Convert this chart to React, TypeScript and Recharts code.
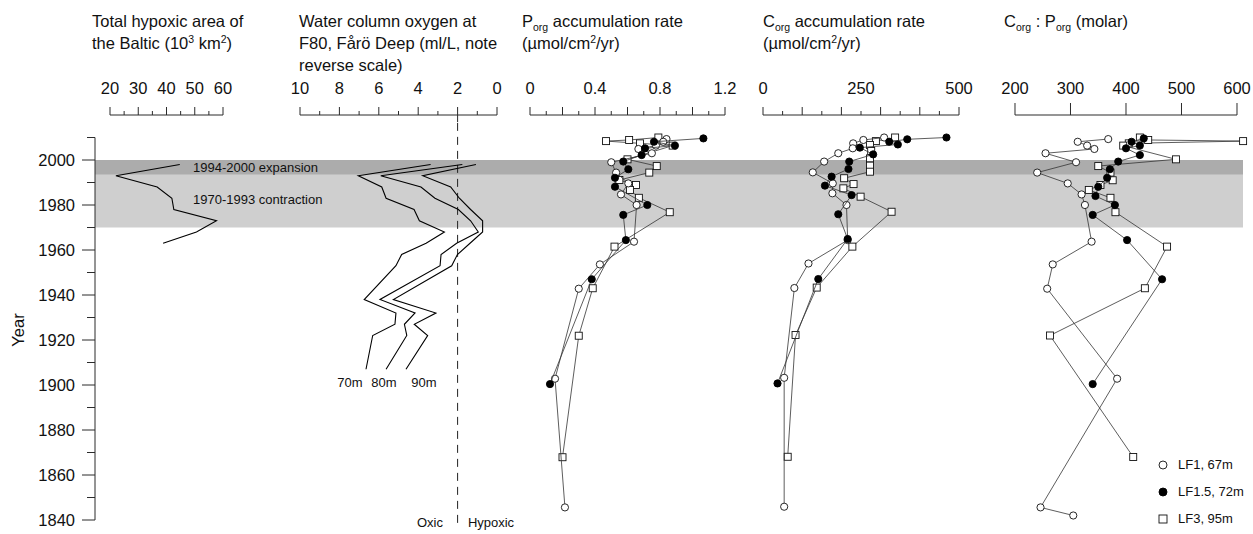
import React from 'react';
import { ScatterChart, Scatter, XAxis, YAxis, ReferenceArea, ReferenceLine } from 'recharts';

const FONT = '"Liberation Sans", Arial, Helvetica, sans-serif';
const AXIS = '#2b2b2b';
const INK = '#111111';
const W = 1253;
const H = 534;

// ---------- Year axis ----------
const yearTicks = [1840, 1850, 1860, 1870, 1880, 1890, 1900, 1910, 1920, 1930, 1940, 1950, 1960, 1970, 1980, 1990, 2000, 2010];
const yearLabels = [1840, 1860, 1880, 1900, 1920, 1940, 1960, 1980, 2000];
const contractionYears = [1970, 1993.4];
const expansionYears = [1993.4, 2000];

// ---------- Total hypoxic area ----------
const hypoxicYears = [1998, 1993, 1988, 1983, 1978, 1973, 1968, 1963];
const hypoxicArea = [44.7, 22.1, 36.7, 41.9, 42.6, 57.7, 50.6, 38.8];
const hypoxicTicks = [20, 25, 30, 35, 40, 45, 50, 55, 60];
const hypoxicMajor = [20, 30, 40, 50, 60];

// ---------- Oxygen at F80 ----------
const oxygenYears = [1998, 1993, 1988, 1983, 1978, 1973, 1968, 1963, 1958, 1953, 1938, 1932, 1927, 1922, 1907];
const oxygen70m = [3.37, 7.04, 5.85, 5.63, 4.21, 3.94, 2.67, 3.6, 4.84, 5.13, 6.74, 5.13, 5.18, 6.31, 6.65];
const oxygen80m = [1.76, 5.9, 3.86, 3.15, 1.96, 1.34, 0.95, 2.05, 2.84, 2.89, 5.94, 4.16, 4.7, 4.58, 5.63];
const oxygen90m = [1.07, 3.77, 2.35, 1.91, 1.34, 0.73, 0.73, 1.37, 2.01, 2.3, 5.26, 3.1, 4.2, 3.52, 4.62];
const oxygenTicks = [0, 1, 2, 3, 4, 5, 6, 7, 8, 9, 10];
const oxygenMajor = [0, 2, 4, 6, 8, 10];
const hypoxiaThreshold = 2;

// ---------- P_org accumulation rate [year, value] ----------
const pLF1: [number, number][] = [
  [2009.3, 0.84], [2008.1, 0.82], [2006.4, 0.775], [2004.9, 0.667], [2003, 0.75], [1999, 0.5],
  [1994.4, 0.53], [1989.6, 0.605], [1984.7, 0.56], [1980, 0.656], [1963.7, 0.64], [1953.6, 0.43],
  [1942.8, 0.3], [1902.8, 0.154], [1845.6, 0.215],
];
const pLF15: [number, number][] = [
  [2009.6, 1.067], [2008.1, 0.763], [2006.4, 0.892], [2005.2, 0.708], [2002.2, 0.687], [1999.3, 0.574],
  [1995.9, 0.605], [1992.1, 0.523], [1988.1, 0.523], [1980, 0.722], [1975.6, 0.574], [1964.4, 0.59],
  [1947, 0.38], [1900.4, 0.123],
];
const pLF3: [number, number][] = [
  [2010, 0.79], [2008.9, 0.61], [2008.4, 0.468], [2007.4, 0.677], [2006.4, 0.878], [2000.3, 0.6],
  [1997.3, 0.78], [1994.4, 0.734], [1991.1, 0.55], [1988.9, 0.652], [1986.7, 0.615], [1983.2, 0.67],
  [1976.8, 0.86], [1961.5, 0.52], [1943, 0.386], [1921.9, 0.3], [1867.9, 0.2],
];
const pTicks = [0, 0.1, 0.2, 0.3, 0.4, 0.5, 0.6, 0.7, 0.8, 0.9, 1.0, 1.1, 1.2];
const pMajor = [0, 0.2, 0.4, 0.6, 0.8, 1.0, 1.2];
const pLabels = [0, 0.4, 0.8, 1.2];

// ---------- C_org accumulation rate [year, value] ----------
const cLF1: [number, number][] = [
  [2010, 309], [2008.9, 256], [2007.4, 230], [2005.2, 229], [2003, 192], [1999.3, 156],
  [1994.5, 127], [1989.6, 178], [1985.2, 177], [1980, 213], [1964.4, 216], [1954, 116],
  [1943.1, 80], [1903.2, 54], [1845.9, 54],
];
const cLF15: [number, number][] = [
  [2010, 468], [2009.2, 368], [2008.1, 322], [2006.9, 344], [2005.5, 247], [2002.5, 281],
  [1999.3, 220], [1996, 218], [1992.6, 175], [1988.6, 158], [1984.4, 226], [1975.9, 192],
  [1964.9, 216], [1947.1, 141], [1900.7, 37],
];
const cLF3: [number, number][] = [
  [2010, 337], [2008.4, 288], [2006.7, 273], [2004, 276], [2000.7, 273], [1997.5, 273],
  [1994.8, 273], [1991.9, 207], [1989.3, 231], [1987.4, 205], [1983.7, 249], [1977, 328],
  [1961.5, 228], [1943.3, 137], [1922.2, 83], [1868.1, 63],
];
const cTicks = [0, 50, 100, 150, 200, 250, 300, 350, 400, 450, 500];
const cMajor = [0, 100, 200, 300, 400, 500];
const cLabels = [0, 250, 500];

// ---------- C_org : P_org [year, value] ----------
const rLF1: [number, number][] = [
  [2009.3, 368], [2008.1, 313], [2006.4, 330], [2004.9, 343], [2003, 255], [1999, 310],
  [1994.4, 240], [1989.6, 295], [1984.7, 320], [1980, 326], [1963.7, 338], [1953.6, 268],
  [1942.8, 258], [1902.8, 384], [1845.6, 246], [1842, 305],
];
const rLF15: [number, number][] = [
  [2009.6, 432], [2008.1, 410], [2006.4, 425], [2005.2, 400], [2002.2, 425], [1999.3, 386],
  [1995.9, 371], [1992.1, 366], [1988.1, 350], [1984, 345], [1980, 380], [1975.6, 340],
  [1964.4, 402], [1947, 465], [1900.4, 340],
];
const rLF3: [number, number][] = [
  [2010, 425], [2008.9, 440], [2008.4, 611], [2007.4, 405], [2006.4, 395], [2000.3, 490],
  [1997.3, 350], [1994.4, 372], [1991, 376], [1988.9, 354], [1986.7, 333], [1983.2, 372],
  [1976.8, 381], [1961.5, 474], [1943, 434], [1922, 263], [1868, 413],
];
const rTicks = [200, 300, 400, 500, 600];

const legendItems = ['LF1, 67m', 'LF1.5, 72m', 'LF3, 95m'];

// ---------- helpers ----------
const near = (a: number, b: number) => Math.abs(a - b) < 1e-6;
const inList = (v: number, list: number[]) => list.some((t) => near(t, v));
const zipYears = (years: number[], vals: number[]) => years.map((year, i) => ({ year, v: vals[i] }));
const fromPairs = (pairs: [number, number][]) => pairs.map(([year, v]) => ({ year, v }));

const openCircle = (p: any) => <circle cx={p.cx} cy={p.cy} r={3.6} fill="#fff" stroke={INK} strokeWidth={0.9} />;
const filledCircle = (p: any) => <circle cx={p.cx} cy={p.cy} r={3.6} fill="#000" stroke="#000" strokeWidth={0.9} />;
const openSquare = (p: any) => (
  <rect x={p.cx - 3.5} y={p.cy - 3.5} width={7} height={7} fill="#fff" stroke={INK} strokeWidth={0.9} />
);
const noMarker = () => <g />;

type SeriesDef = { data: { year: number; v: number }[]; shape: any; stroke: string; width: number };

const markerSeries = (pairs: [number, number][], shape: any): SeriesDef => ({
  data: fromPairs(pairs),
  shape,
  stroke: '#333',
  width: 0.8,
});

function makeXTick(major: number[], labels: number[], longLen: number, shortLen: number, downAt?: number) {
  return (props: any) => {
    const { x, y, payload } = props;
    const v = payload.value as number;
    const len = inList(v, major) ? longLen : shortLen;
    const down = downAt !== undefined && near(v, downAt) ? 7 : 0;
    return (
      <g>
        <line x1={x} x2={x} y1={y + down} y2={y - len} stroke={AXIS} strokeWidth={1} />
        {inList(v, labels) && (
          <text x={x} y={y - 21} textAnchor="middle" fontSize={16.5} fontFamily={FONT} fill={INK}>
            {String(v)}
          </text>
        )}
      </g>
    );
  };
}

const YearTick = (props: any) => {
  const { x, y, payload } = props;
  const v = payload.value as number;
  const major = inList(v, yearLabels);
  return (
    <g>
      <line x1={x - (major ? 13 : 8)} x2={x} y1={y} y2={y} stroke={AXIS} strokeWidth={1} />
      {major && (
        <text x={x - 20} y={y} dy="0.36em" textAnchor="end" fontSize={16.5} fontFamily={FONT} fill={INK}>
          {v}
        </text>
      )}
    </g>
  );
};

type PanelProps = {
  x0: number;
  x1: number;
  domain: [number, number];
  reversed?: boolean;
  ticks: number[];
  tickRenderer: any;
  axisFrom: number;
  axisTo: number;
  series: SeriesDef[];
  extras?: React.ReactNode[];
};

function Panel({ x0, x1, domain, reversed, ticks, tickRenderer, axisFrom, axisTo, series, extras }: PanelProps) {
  const PAD = 30;
  const width = x1 - x0 + 2 * PAD;
  return (
    <div style={{ position: 'absolute', left: x0 - PAD, top: 0, width, height: H }}>
      <ScatterChart width={width} height={H} margin={{ top: 75, right: PAD, bottom: 14, left: PAD }}>
        <XAxis
          type="number"
          dataKey="v"
          domain={domain}
          reversed={reversed}
          orientation="top"
          height={40}
          ticks={ticks}
          interval={0}
          allowDataOverflow
          axisLine={false}
          tickLine={false}
          tickSize={0}
          tickMargin={0}
          tick={tickRenderer}
        />
        <YAxis type="number" dataKey="year" domain={[1840, 2020]} hide width={0} allowDataOverflow />
        <ReferenceLine
          segment={[{ x: axisFrom, y: 2020 }, { x: axisTo, y: 2020 }]}
          stroke={AXIS}
          strokeWidth={1}
          ifOverflow="visible"
        />
        {extras}
        {series.map((s, i) => (
          <Scatter
            key={i}
            data={s.data}
            isAnimationActive={false}
            line={{ stroke: s.stroke, strokeWidth: s.width }}
            lineJointType="linear"
            shape={s.shape}
          />
        ))}
      </ScatterChart>
    </div>
  );
}

const textBase: React.CSSProperties = {
  position: 'absolute',
  fontFamily: FONT,
  color: INK,
  whiteSpace: 'nowrap',
};
const header: React.CSSProperties = { ...textBase, top: 10, fontSize: 16.5, lineHeight: '22px' };
const sub: React.CSSProperties = { fontSize: 10.5, verticalAlign: -4, lineHeight: 0 };
const sup: React.CSSProperties = { fontSize: 10.5, verticalAlign: 6, lineHeight: 0 };
const small: React.CSSProperties = { ...textBase, fontSize: 13, lineHeight: '16px' };

export default function App() {
  const lineSeries = (data: { year: number; v: number }[]): SeriesDef => ({
    data,
    shape: noMarker,
    stroke: '#000',
    width: 1.1,
  });

  return (
    <div style={{ position: 'absolute', left: 0, top: 0, width: W, height: H, background: '#fff', overflow: 'hidden' }}>
      {/* background: year axis + bands */}
      <div style={{ position: 'absolute', left: 0, top: 0 }}>
        <ScatterChart width={W} height={H} margin={{ top: 137.5, right: 10, bottom: 14, left: 0 }}>
          <XAxis type="number" dataKey="v" domain={[0, 1]} hide allowDataOverflow />
          <YAxis
            type="number"
            dataKey="year"
            domain={[1840, 2010]}
            allowDataOverflow
            ticks={yearTicks}
            interval={0}
            width={95}
            axisLine={{ stroke: AXIS, strokeWidth: 1 }}
            tickLine={false}
            tickSize={0}
            tickMargin={0}
            tick={YearTick}
          />
          <ReferenceArea y1={contractionYears[0]} y2={contractionYears[1]} fill="#cfcfcf" fillOpacity={1} stroke="none" ifOverflow="visible" />
          <ReferenceArea y1={expansionYears[0]} y2={expansionYears[1]} fill="#acacac" fillOpacity={1} stroke="none" ifOverflow="visible" />
        </ScatterChart>
      </div>

      <Panel
        x0={110}
        x1={223}
        domain={[20, 60]}
        ticks={hypoxicTicks}
        tickRenderer={makeXTick(hypoxicMajor, hypoxicMajor, 8, 4)}
        axisFrom={20}
        axisTo={60}
        series={[lineSeries(zipYears(hypoxicYears, hypoxicArea))]}
      />

      <Panel
        x0={300}
        x1={497}
        domain={[0, 10]}
        reversed
        ticks={oxygenTicks}
        tickRenderer={makeXTick(oxygenMajor, oxygenMajor, 8, 4, hypoxiaThreshold)}
        axisFrom={0}
        axisTo={10}
        extras={[
          <ReferenceLine
            key="thr"
            segment={[{ x: hypoxiaThreshold, y: 2016.5 }, { x: hypoxiaThreshold, y: 1837.5 }]}
            stroke="#222"
            strokeWidth={1}
            strokeDasharray="8 6"
            ifOverflow="visible"
          />,
        ]}
        series={[
          lineSeries(zipYears(oxygenYears, oxygen70m)),
          lineSeries(zipYears(oxygenYears, oxygen80m)),
          lineSeries(zipYears(oxygenYears, oxygen90m)),
        ]}
      />

      <Panel
        x0={530}
        x1={725}
        domain={[0, 1.2]}
        ticks={pTicks}
        tickRenderer={makeXTick(pMajor, pLabels, 8, 4)}
        axisFrom={0}
        axisTo={1.2}
        series={[markerSeries(pLF3, openSquare), markerSeries(pLF1, openCircle), markerSeries(pLF15, filledCircle)]}
      />

      <Panel
        x0={763}
        x1={959}
        domain={[0, 500]}
        ticks={cTicks}
        tickRenderer={makeXTick(cMajor, cLabels, 8, 4)}
        axisFrom={0}
        axisTo={500}
        series={[markerSeries(cLF3, openSquare), markerSeries(cLF1, openCircle), markerSeries(cLF15, filledCircle)]}
      />

      <Panel
        x0={1015}
        x1={1248.1}
        domain={[200, 620]}
        ticks={rTicks}
        tickRenderer={makeXTick(rTicks, rTicks, 12, 12)}
        axisFrom={200}
        axisTo={600}
        series={[markerSeries(rLF3, openSquare), markerSeries(rLF1, openCircle), markerSeries(rLF15, filledCircle)]}
      />

      {/* headers */}
      <div style={{ ...header, left: 92 }}>
        Total hypoxic area of
        <br />
        the Baltic (10<span style={sup}>3</span> km<span style={sup}>2</span>)
      </div>
      <div style={{ ...header, left: 299 }}>
        Water column oxygen at
        <br />
        F80, Fårö Deep (ml/L, note
        <br />
        reverse scale)
      </div>
      <div style={{ ...header, left: 522 }}>
        P<span style={sub}>org</span> accumulation rate
        <br />
        (µmol/cm<span style={sup}>2</span>/yr)
      </div>
      <div style={{ ...header, left: 763 }}>
        C<span style={sub}>org</span> accumulation rate
        <br />
        (µmol/cm<span style={sup}>2</span>/yr)
      </div>
      <div style={{ ...header, left: 1004 }}>
        C<span style={sub}>org</span> : P<span style={sub}>org</span> (molar)
      </div>

      {/* Year label */}
      <div
        style={{
          ...textBase,
          left: 18,
          top: 330,
          fontSize: 16.5,
          lineHeight: '20px',
          transform: 'translate(-50%, -50%) rotate(-90deg)',
        }}
      >
        Year
      </div>

      {/* annotations */}
      <div style={{ ...small, left: 193, top: 160 }}>1994-2000 expansion</div>
      <div style={{ ...small, left: 193, top: 192 }}>1970-1993 contraction</div>
      <div style={{ ...small, left: 350, top: 375, transform: 'translateX(-50%)' }}>70m</div>
      <div style={{ ...small, left: 384, top: 375, transform: 'translateX(-50%)' }}>80m</div>
      <div style={{ ...small, left: 424, top: 375, transform: 'translateX(-50%)' }}>90m</div>
      <div style={{ ...small, left: 430, top: 515, transform: 'translateX(-50%)' }}>Oxic</div>
      <div style={{ ...small, left: 491, top: 515, transform: 'translateX(-50%)' }}>Hypoxic</div>

      {/* legend */}
      {legendItems.map((label, i) => (
        <div key={label} style={{ ...small, left: 1156, top: 457 + i * 27, display: 'flex', alignItems: 'center' }}>
          <svg width={16} height={16} style={{ marginRight: 6 }}>
            {i === 0 && <circle cx={7} cy={8} r={4} fill="#fff" stroke={INK} strokeWidth={0.9} />}
            {i === 1 && <circle cx={7} cy={8} r={4} fill="#000" stroke="#000" strokeWidth={0.9} />}
            {i === 2 && <rect x={3} y={4} width={8} height={8} fill="#fff" stroke={INK} strokeWidth={0.9} />}
          </svg>
          <span>{label}</span>
        </div>
      ))}
    </div>
  );
}
